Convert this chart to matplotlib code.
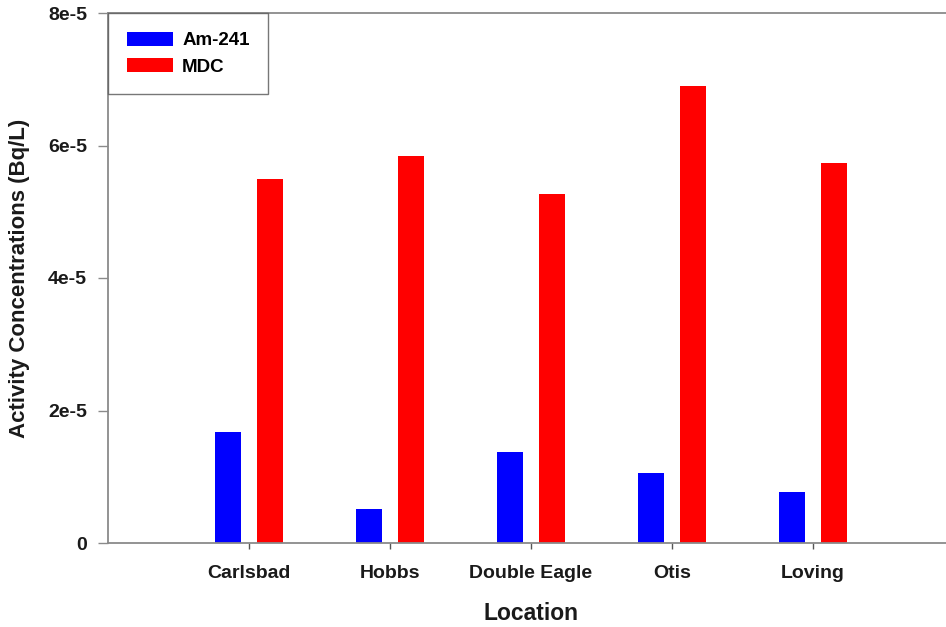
import matplotlib
matplotlib.use("Agg")
import matplotlib.pyplot as plt
import numpy as np
from matplotlib.patches import Patch

plt.rcParams['font.family'] = ['Liberation Sans', 'DejaVu Sans']

locations = ["Carlsbad", "Hobbs", "Double Eagle", "Otis", "Loving"]
am241 = [1.67e-5, 0.52e-5, 1.38e-5, 1.05e-5, 0.77e-5]
mdc = [5.50e-5, 5.84e-5, 5.27e-5, 6.90e-5, 5.74e-5]
y_ticks = [0, 2e-5, 4e-5, 6e-5, 8e-5]
y_tick_labels = ["0", "2e-5", "4e-5", "6e-5", "8e-5"]

W, H = 946, 627
fig = plt.figure(figsize=(W / 100, H / 100), dpi=100)
# axes: left spine at x=108, bottom at y=543, top at y=13; spacing 141 px per category
left, bottom, top = 108, 543, 13
unit = 141
ax = fig.add_axes([left / W, (H - bottom) / H, 6 * unit / W, (bottom - top) / H])

x = np.arange(1, len(locations) + 1)
bw = 0.185
off = 0.149
ax.bar(x - off, am241, width=bw, color="#0000ff", edgecolor="none")
ax.bar(x + off, mdc, width=bw, color="#ff0000", edgecolor="none")

ax.set_xlim(0, 6)
ax.set_ylim(0, 8e-5)
ax.set_xticks(x)
ax.set_xticklabels(locations, fontsize=14, fontweight="bold", color="#1a1a1a")
ax.set_yticks(y_ticks)
ax.set_yticklabels(y_tick_labels, fontsize=14, fontweight="bold", color="#1a1a1a")

spine_col = "#8a8a8a"
for s in ["left", "bottom", "top", "right"]:
    ax.spines[s].set_color(spine_col)
    ax.spines[s].set_linewidth(1.3)
ax.tick_params(axis="y", direction="out", length=7, width=1.0, color=spine_col, pad=8)
ax.tick_params(axis="x", direction="out", length=4, width=1.0, color="#555555", pad=12)

ax.set_xlabel("Location", fontsize=16.5, fontweight="bold", color="#1a1a1a", labelpad=14)
ax.set_ylabel("Activity Concentrations (Bq/L)", fontsize=16, fontweight="bold",
              color="#1a1a1a", labelpad=13)

handles = [Patch(facecolor="#0000ff", edgecolor="none"),
           Patch(facecolor="#ff0000", edgecolor="none")]
leg = ax.legend(handles, ["Am-241", "MDC"], loc="upper left",
                bbox_to_anchor=(0.0, 1.0), borderaxespad=0,
                prop={"weight": "bold", "size": 13.5}, frameon=True, fancybox=False,
                handlelength=2.45, handleheight=0.8, handletextpad=0.5,
                labelspacing=0.45, borderpad=1.0)
leg.get_frame().set_edgecolor("#555555")
leg.get_frame().set_linewidth(1.0)

fig.savefig("out.png", dpi=100)
